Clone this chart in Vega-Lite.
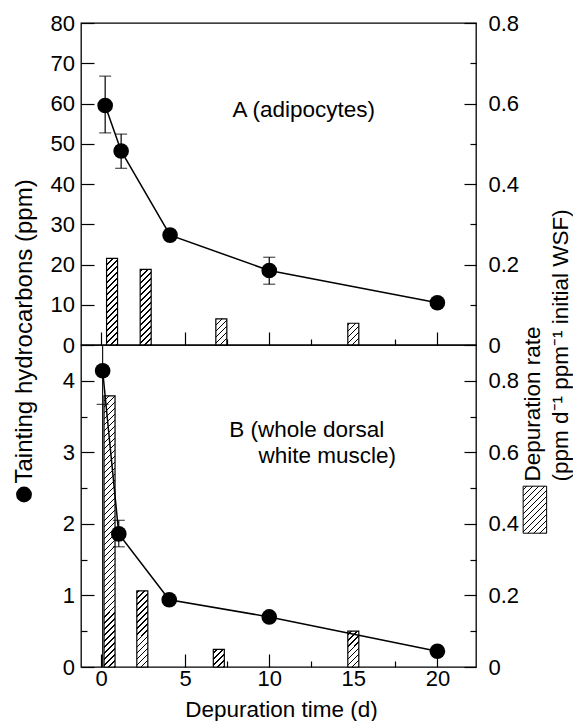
{
"$schema": "https://vega.github.io/schema/vega-lite/v6.json",
"autosize": "pad",
"padding": {"left": 11, "top": 11, "right": 0, "bottom": 0},
"background": "white",
"bounds": "flush",
"spacing": 0,
"config": {
  "font": "Liberation Sans",
  "view": {"stroke": "black", "strokeWidth": 1.3},
  "axis": {"grid": false, "domain": false, "tickColor": "black", "tickWidth": 1.2, "labelColor": "black", "labelFont": "Liberation Sans", "labelFontSize": 22, "titleFont": "Liberation Sans", "titleFontSize": 22.5, "titleFontWeight": "normal", "titleColor": "black", "labelOverlap": false, "labelFlush": false},
  "legend": {"padding": 0, "titlePadding": 0}
},
"datasets": {
  "barsA": [{"t":0.65,"rate":0.215},{"t":2.65,"rate":0.188},{"t":7.15,"rate":0.065},{"t":15.0,"rate":0.054}],
  "barsB": [{"t":0.5,"rate":0.758},{"t":2.45,"rate":0.213},{"t":7.0,"rate":0.049},{"t":15.0,"rate":0.1}],
  "ptsA": [{"t":0.24,"y":59.5},{"t":1.19,"y":48.2},{"t":4.1,"y":27.3},{"t":10,"y":18.5},{"t":20,"y":10.5}],
  "ptsB": [{"t":0.09,"y":4.14},{"t":1.05,"y":1.86},{"t":4.05,"y":0.94},{"t":10,"y":0.7},{"t":20,"y":0.22}],
  "errA": [{"t":0.24,"y":52.7,"y2":66.8},{"t":1.19,"y":43.9,"y2":52.4},{"t":10,"y":15.1,"y2":21.8}],
  "capsA": [{"t":0.24,"y":52.7},{"t":0.24,"y":66.8},{"t":1.19,"y":43.9},{"t":1.19,"y":52.4},{"t":10,"y":15.1},{"t":10,"y":21.8}],
  "errB": [{"t":0.09,"y":0,"y2":4.5},{"t":1.05,"y":1.68,"y2":2.05}],
  "capsB": [{"t":0.09,"y":3.67},{"t":1.05,"y":1.68},{"t":1.05,"y":2.05}],
  "labA": [{"t":7.81,"y":56.7,"label":"A (adipocytes)"}],
  "labB": [{"t":7.62,"y":3.22,"label":"B (whole dorsal"},{"t":9.36,"y":2.85,"label":"white muscle)"}]
},
"vconcat": [
{
  "width": 395, "height": 322,
  "resolve": {"scale": {"y": "independent"}},
  "layer": [
    {
      "data": {"name": "barsA"},
      "encoding": {"x": {"field": "t", "type": "quantitative", "scale": {"domain": [-0.9, 22], "nice": false, "zero": false},
        "axis": {"values": [0,2.5,5,7.5,10,12.5,15,17.5,20], "labels": false, "title": null, "tickSize": {"expr": "datum.value % 5 === 0 ? -13 : -6"}}}},
      "layer": [
        {"mark": {"type": "bar", "size": 11, "fill": {"gradient": "linear", "x1": 1, "y1": 1, "x2": 0.967811, "y2": 0.06359, "stops": [
{"offset":0,"color":"#000"},{"offset":0.006,"color":"#000"},{"offset":0.006,"color":"#fff"},{"offset":0.02,"color":"#fff"},
{"offset":0.02,"color":"#000"},{"offset":0.026,"color":"#000"},{"offset":0.026,"color":"#fff"},{"offset":0.04,"color":"#fff"},
{"offset":0.04,"color":"#000"},{"offset":0.046,"color":"#000"},{"offset":0.046,"color":"#fff"},{"offset":0.06,"color":"#fff"},
{"offset":0.06,"color":"#000"},{"offset":0.066,"color":"#000"},{"offset":0.066,"color":"#fff"},{"offset":0.08,"color":"#fff"},
{"offset":0.08,"color":"#000"},{"offset":0.086,"color":"#000"},{"offset":0.086,"color":"#fff"},{"offset":0.1,"color":"#fff"},
{"offset":0.1,"color":"#000"},{"offset":0.106,"color":"#000"},{"offset":0.106,"color":"#fff"},{"offset":0.12,"color":"#fff"},
{"offset":0.12,"color":"#000"},{"offset":0.126,"color":"#000"},{"offset":0.126,"color":"#fff"},{"offset":0.14,"color":"#fff"},
{"offset":0.14,"color":"#000"},{"offset":0.146,"color":"#000"},{"offset":0.146,"color":"#fff"},{"offset":0.16,"color":"#fff"},
{"offset":0.16,"color":"#000"},{"offset":0.166,"color":"#000"},{"offset":0.166,"color":"#fff"},{"offset":0.18,"color":"#fff"},
{"offset":0.18,"color":"#000"},{"offset":0.186,"color":"#000"},{"offset":0.186,"color":"#fff"},{"offset":0.2,"color":"#fff"},
{"offset":0.2,"color":"#000"},{"offset":0.206,"color":"#000"},{"offset":0.206,"color":"#fff"},{"offset":0.22,"color":"#fff"},
{"offset":0.22,"color":"#000"},{"offset":0.226,"color":"#000"},{"offset":0.226,"color":"#fff"},{"offset":0.24,"color":"#fff"},
{"offset":0.24,"color":"#000"},{"offset":0.246,"color":"#000"},{"offset":0.246,"color":"#fff"},{"offset":0.26,"color":"#fff"},
{"offset":0.26,"color":"#000"},{"offset":0.266,"color":"#000"},{"offset":0.266,"color":"#fff"},{"offset":0.28,"color":"#fff"},
{"offset":0.28,"color":"#000"},{"offset":0.286,"color":"#000"},{"offset":0.286,"color":"#fff"},{"offset":0.3,"color":"#fff"},
{"offset":0.3,"color":"#000"},{"offset":0.306,"color":"#000"},{"offset":0.306,"color":"#fff"},{"offset":0.32,"color":"#fff"},
{"offset":0.32,"color":"#000"},{"offset":0.326,"color":"#000"},{"offset":0.326,"color":"#fff"},{"offset":0.34,"color":"#fff"},
{"offset":0.34,"color":"#000"},{"offset":0.346,"color":"#000"},{"offset":0.346,"color":"#fff"},{"offset":0.36,"color":"#fff"},
{"offset":0.36,"color":"#000"},{"offset":0.366,"color":"#000"},{"offset":0.366,"color":"#fff"},{"offset":0.38,"color":"#fff"},
{"offset":0.38,"color":"#000"},{"offset":0.386,"color":"#000"},{"offset":0.386,"color":"#fff"},{"offset":0.4,"color":"#fff"},
{"offset":0.4,"color":"#000"},{"offset":0.406,"color":"#000"},{"offset":0.406,"color":"#fff"},{"offset":0.42,"color":"#fff"},
{"offset":0.42,"color":"#000"},{"offset":0.426,"color":"#000"},{"offset":0.426,"color":"#fff"},{"offset":0.44,"color":"#fff"},
{"offset":0.44,"color":"#000"},{"offset":0.446,"color":"#000"},{"offset":0.446,"color":"#fff"},{"offset":0.46,"color":"#fff"},
{"offset":0.46,"color":"#000"},{"offset":0.466,"color":"#000"},{"offset":0.466,"color":"#fff"},{"offset":0.48,"color":"#fff"},
{"offset":0.48,"color":"#000"},{"offset":0.486,"color":"#000"},{"offset":0.486,"color":"#fff"},{"offset":0.5,"color":"#fff"},
{"offset":0.5,"color":"#000"},{"offset":0.506,"color":"#000"},{"offset":0.506,"color":"#fff"},{"offset":0.52,"color":"#fff"},
{"offset":0.52,"color":"#000"},{"offset":0.526,"color":"#000"},{"offset":0.526,"color":"#fff"},{"offset":0.54,"color":"#fff"},
{"offset":0.54,"color":"#000"},{"offset":0.546,"color":"#000"},{"offset":0.546,"color":"#fff"},{"offset":0.56,"color":"#fff"},
{"offset":0.56,"color":"#000"},{"offset":0.566,"color":"#000"},{"offset":0.566,"color":"#fff"},{"offset":0.58,"color":"#fff"},
{"offset":0.58,"color":"#000"},{"offset":0.586,"color":"#000"},{"offset":0.586,"color":"#fff"},{"offset":0.6,"color":"#fff"},
{"offset":0.6,"color":"#000"},{"offset":0.606,"color":"#000"},{"offset":0.606,"color":"#fff"},{"offset":0.62,"color":"#fff"},
{"offset":0.62,"color":"#000"},{"offset":0.626,"color":"#000"},{"offset":0.626,"color":"#fff"},{"offset":0.64,"color":"#fff"},
{"offset":0.64,"color":"#000"},{"offset":0.646,"color":"#000"},{"offset":0.646,"color":"#fff"},{"offset":0.66,"color":"#fff"},
{"offset":0.66,"color":"#000"},{"offset":0.666,"color":"#000"},{"offset":0.666,"color":"#fff"},{"offset":0.68,"color":"#fff"},
{"offset":0.68,"color":"#000"},{"offset":0.686,"color":"#000"},{"offset":0.686,"color":"#fff"},{"offset":0.7,"color":"#fff"},
{"offset":0.7,"color":"#000"},{"offset":0.706,"color":"#000"},{"offset":0.706,"color":"#fff"},{"offset":0.72,"color":"#fff"},
{"offset":0.72,"color":"#000"},{"offset":0.726,"color":"#000"},{"offset":0.726,"color":"#fff"},{"offset":0.74,"color":"#fff"},
{"offset":0.74,"color":"#000"},{"offset":0.746,"color":"#000"},{"offset":0.746,"color":"#fff"},{"offset":0.76,"color":"#fff"},
{"offset":0.76,"color":"#000"},{"offset":0.766,"color":"#000"},{"offset":0.766,"color":"#fff"},{"offset":0.78,"color":"#fff"},
{"offset":0.78,"color":"#000"},{"offset":0.786,"color":"#000"},{"offset":0.786,"color":"#fff"},{"offset":0.8,"color":"#fff"},
{"offset":0.8,"color":"#000"},{"offset":0.806,"color":"#000"},{"offset":0.806,"color":"#fff"},{"offset":0.82,"color":"#fff"},
{"offset":0.82,"color":"#000"},{"offset":0.826,"color":"#000"},{"offset":0.826,"color":"#fff"},{"offset":0.84,"color":"#fff"},
{"offset":0.84,"color":"#000"},{"offset":0.846,"color":"#000"},{"offset":0.846,"color":"#fff"},{"offset":0.86,"color":"#fff"},
{"offset":0.86,"color":"#000"},{"offset":0.866,"color":"#000"},{"offset":0.866,"color":"#fff"},{"offset":0.88,"color":"#fff"},
{"offset":0.88,"color":"#000"},{"offset":0.886,"color":"#000"},{"offset":0.886,"color":"#fff"},{"offset":0.9,"color":"#fff"},
{"offset":0.9,"color":"#000"},{"offset":0.906,"color":"#000"},{"offset":0.906,"color":"#fff"},{"offset":0.92,"color":"#fff"},
{"offset":0.92,"color":"#000"},{"offset":0.926,"color":"#000"},{"offset":0.926,"color":"#fff"},{"offset":0.94,"color":"#fff"},
{"offset":0.94,"color":"#000"},{"offset":0.946,"color":"#000"},{"offset":0.946,"color":"#fff"},{"offset":0.96,"color":"#fff"}
]}},
          "encoding": {"y": {"datum": 0.795, "type": "quantitative", "scale": {"domain": [0, 0.8], "nice": false, "zero": true},
            "axis": {"orient": "right", "values": [0,0.1,0.2,0.3,0.4,0.5,0.6,0.7,0.8], "title": null,
              "tickSize": {"expr": "round(datum.value*10) % 2 === 0 ? -12 : -6"},
              "labelExpr": "round(datum.value*10) % 2 === 0 ? (datum.value === 0 ? '0' : format(datum.value, '.1f')) : ''",
              "labelPadding": 24}},
            "y2": {"datum": 0}}},
        {"mark": {"type": "bar", "size": 13, "fill": "white"},
          "encoding": {"y": {"field": "rate", "type": "quantitative"}, "y2": {"datum": 0.795}}},
        {"mark": {"type": "bar", "size": 11, "fill": "transparent", "stroke": "black", "strokeWidth": 1.2},
          "encoding": {"y": {"field": "rate", "type": "quantitative"}, "y2": {"datum": 0}}},
        {"transform": [{"filter": "false"}],
          "mark": {"type": "bar", "size": 11},
          "encoding": {"y": {"field": "rate", "type": "quantitative"},
            "fill": {"datum": "Depuration rate", "scale": {"range": [{"expr": "{gradient:'linear',x1:1,y1:1,x2:0.38723,y2:-0.22554,stops:[{offset:0,color:'#000'},{offset:0.025,color:'#000'},{offset:0.025,color:'#fff'},{offset:0.0833,color:'#fff'},{offset:0.0833,color:'#000'},{offset:0.1083,color:'#000'},{offset:0.1083,color:'#fff'},{offset:0.1667,color:'#fff'},{offset:0.1667,color:'#000'},{offset:0.1917,color:'#000'},{offset:0.1917,color:'#fff'},{offset:0.25,color:'#fff'},{offset:0.25,color:'#000'},{offset:0.275,color:'#000'},{offset:0.275,color:'#fff'},{offset:0.3333,color:'#fff'},{offset:0.3333,color:'#000'},{offset:0.3583,color:'#000'},{offset:0.3583,color:'#fff'},{offset:0.4167,color:'#fff'},{offset:0.4167,color:'#000'},{offset:0.4417,color:'#000'},{offset:0.4417,color:'#fff'},{offset:0.5,color:'#fff'},{offset:0.5,color:'#000'},{offset:0.525,color:'#000'},{offset:0.525,color:'#fff'},{offset:0.5833,color:'#fff'},{offset:0.5833,color:'#000'},{offset:0.6083,color:'#000'},{offset:0.6083,color:'#fff'},{offset:0.6667,color:'#fff'},{offset:0.6667,color:'#000'},{offset:0.6917,color:'#000'},{offset:0.6917,color:'#fff'},{offset:0.75,color:'#fff'},{offset:0.75,color:'#000'},{offset:0.775,color:'#000'},{offset:0.775,color:'#fff'},{offset:0.8333,color:'#fff'},{offset:0.8333,color:'#000'},{offset:0.8583,color:'#000'},{offset:0.8583,color:'#fff'},{offset:0.9167,color:'#fff'},{offset:0.9167,color:'#000'},{offset:0.9417,color:'#000'},{offset:0.9417,color:'#fff'},{offset:1,color:'#fff'}]}"}]},
              "legend": {"orient": "none", "legendX": 429.9, "legendY": 462.7, "title": null, "labelExpr": "''", "labelFontSize": 1,
                "symbolType": "M-0.5,-1H0.5V1H-0.5Z", "symbolSize": 2209, "symbolStrokeColor": "black", "symbolStrokeWidth": 1, "padding": 0}}}}
      ]
    },
    {
      "encoding": {"x": {"field": "t", "type": "quantitative"}},
      "layer": [
        {"data": {"name": "errA"}, "mark": {"type": "rule", "color": "black", "strokeWidth": 1.2},
          "encoding": {"y": {"field": "y", "type": "quantitative", "scale": {"domain": [0, 80], "nice": false, "zero": true},
            "axis": {"orient": "left", "values": [0,10,20,30,40,50,60,70,80], "title": null, "tickSize": -13, "labelPadding": 19.5}},
            "y2": {"field": "y2"}}},
        {"data": {"name": "capsA"}, "mark": {"type": "tick", "orient": "horizontal", "size": 12, "thickness": 1.2, "color": "black"},
          "encoding": {"y": {"field": "y", "type": "quantitative"}}},
        {"data": {"name": "ptsA"}, "mark": {"type": "line", "color": "black", "strokeWidth": 1.5},
          "encoding": {"y": {"field": "y", "type": "quantitative"}}},
        {"data": {"name": "ptsA"}, "mark": {"type": "point", "filled": true, "color": "black", "size": 245, "opacity": 1},
          "encoding": {"y": {"field": "y", "type": "quantitative"},
            "shape": {"datum": "Tainting hydrocarbons", "scale": {"range": ["circle"]},
              "legend": {"orient": "none", "legendX": -65, "legendY": 463.5, "title": null, "labelExpr": "''", "labelFontSize": 1,
                "symbolSize": 250, "symbolFillColor": "black", "symbolStrokeWidth": 0, "padding": 0,
                "encode": {"symbols": {"update": {"fill": {"value": "black"}, "strokeWidth": {"value": 0}}}}}}}},
        {"data": {"name": "labA"}, "mark": {"type": "text", "align": "left", "baseline": "alphabetic", "fontSize": 22.5, "color": "black", "font": "Liberation Sans"},
          "encoding": {"y": {"field": "y", "type": "quantitative"}, "text": {"field": "label"}}}
      ]
    }
  ]
},
{
  "width": 395, "height": 322,
  "resolve": {"scale": {"y": "independent"}},
  "layer": [
    {
      "data": {"name": "barsB"},
      "encoding": {"x": {"field": "t", "type": "quantitative", "scale": {"domain": [-0.9, 22], "nice": false, "zero": false},
        "axis": {"values": [0,2.5,5,7.5,10,12.5,15,17.5,20], "title": "Depuration time (d)", "titleBaseline": "alphabetic", "titleY": 49, "titleX": 200,
          "tickSize": {"expr": "datum.value % 5 === 0 ? -13 : -6"},
          "labelExpr": "datum.value % 5 === 0 ? datum.label : ''", "labelBaseline": "alphabetic", "labelPadding": 31}}},
      "layer": [
        {"mark": {"type": "bar", "size": 11, "fill": {"gradient": "linear", "x1": 1, "y1": 1, "x2": 0.967811, "y2": 0.06359, "stops": [
{"offset":0,"color":"#000"},{"offset":0.006,"color":"#000"},{"offset":0.006,"color":"#fff"},{"offset":0.02,"color":"#fff"},
{"offset":0.02,"color":"#000"},{"offset":0.026,"color":"#000"},{"offset":0.026,"color":"#fff"},{"offset":0.04,"color":"#fff"},
{"offset":0.04,"color":"#000"},{"offset":0.046,"color":"#000"},{"offset":0.046,"color":"#fff"},{"offset":0.06,"color":"#fff"},
{"offset":0.06,"color":"#000"},{"offset":0.066,"color":"#000"},{"offset":0.066,"color":"#fff"},{"offset":0.08,"color":"#fff"},
{"offset":0.08,"color":"#000"},{"offset":0.086,"color":"#000"},{"offset":0.086,"color":"#fff"},{"offset":0.1,"color":"#fff"},
{"offset":0.1,"color":"#000"},{"offset":0.106,"color":"#000"},{"offset":0.106,"color":"#fff"},{"offset":0.12,"color":"#fff"},
{"offset":0.12,"color":"#000"},{"offset":0.126,"color":"#000"},{"offset":0.126,"color":"#fff"},{"offset":0.14,"color":"#fff"},
{"offset":0.14,"color":"#000"},{"offset":0.146,"color":"#000"},{"offset":0.146,"color":"#fff"},{"offset":0.16,"color":"#fff"},
{"offset":0.16,"color":"#000"},{"offset":0.166,"color":"#000"},{"offset":0.166,"color":"#fff"},{"offset":0.18,"color":"#fff"},
{"offset":0.18,"color":"#000"},{"offset":0.186,"color":"#000"},{"offset":0.186,"color":"#fff"},{"offset":0.2,"color":"#fff"},
{"offset":0.2,"color":"#000"},{"offset":0.206,"color":"#000"},{"offset":0.206,"color":"#fff"},{"offset":0.22,"color":"#fff"},
{"offset":0.22,"color":"#000"},{"offset":0.226,"color":"#000"},{"offset":0.226,"color":"#fff"},{"offset":0.24,"color":"#fff"},
{"offset":0.24,"color":"#000"},{"offset":0.246,"color":"#000"},{"offset":0.246,"color":"#fff"},{"offset":0.26,"color":"#fff"},
{"offset":0.26,"color":"#000"},{"offset":0.266,"color":"#000"},{"offset":0.266,"color":"#fff"},{"offset":0.28,"color":"#fff"},
{"offset":0.28,"color":"#000"},{"offset":0.286,"color":"#000"},{"offset":0.286,"color":"#fff"},{"offset":0.3,"color":"#fff"},
{"offset":0.3,"color":"#000"},{"offset":0.306,"color":"#000"},{"offset":0.306,"color":"#fff"},{"offset":0.32,"color":"#fff"},
{"offset":0.32,"color":"#000"},{"offset":0.326,"color":"#000"},{"offset":0.326,"color":"#fff"},{"offset":0.34,"color":"#fff"},
{"offset":0.34,"color":"#000"},{"offset":0.346,"color":"#000"},{"offset":0.346,"color":"#fff"},{"offset":0.36,"color":"#fff"},
{"offset":0.36,"color":"#000"},{"offset":0.366,"color":"#000"},{"offset":0.366,"color":"#fff"},{"offset":0.38,"color":"#fff"},
{"offset":0.38,"color":"#000"},{"offset":0.386,"color":"#000"},{"offset":0.386,"color":"#fff"},{"offset":0.4,"color":"#fff"},
{"offset":0.4,"color":"#000"},{"offset":0.406,"color":"#000"},{"offset":0.406,"color":"#fff"},{"offset":0.42,"color":"#fff"},
{"offset":0.42,"color":"#000"},{"offset":0.426,"color":"#000"},{"offset":0.426,"color":"#fff"},{"offset":0.44,"color":"#fff"},
{"offset":0.44,"color":"#000"},{"offset":0.446,"color":"#000"},{"offset":0.446,"color":"#fff"},{"offset":0.46,"color":"#fff"},
{"offset":0.46,"color":"#000"},{"offset":0.466,"color":"#000"},{"offset":0.466,"color":"#fff"},{"offset":0.48,"color":"#fff"},
{"offset":0.48,"color":"#000"},{"offset":0.486,"color":"#000"},{"offset":0.486,"color":"#fff"},{"offset":0.5,"color":"#fff"},
{"offset":0.5,"color":"#000"},{"offset":0.506,"color":"#000"},{"offset":0.506,"color":"#fff"},{"offset":0.52,"color":"#fff"},
{"offset":0.52,"color":"#000"},{"offset":0.526,"color":"#000"},{"offset":0.526,"color":"#fff"},{"offset":0.54,"color":"#fff"},
{"offset":0.54,"color":"#000"},{"offset":0.546,"color":"#000"},{"offset":0.546,"color":"#fff"},{"offset":0.56,"color":"#fff"},
{"offset":0.56,"color":"#000"},{"offset":0.566,"color":"#000"},{"offset":0.566,"color":"#fff"},{"offset":0.58,"color":"#fff"},
{"offset":0.58,"color":"#000"},{"offset":0.586,"color":"#000"},{"offset":0.586,"color":"#fff"},{"offset":0.6,"color":"#fff"},
{"offset":0.6,"color":"#000"},{"offset":0.606,"color":"#000"},{"offset":0.606,"color":"#fff"},{"offset":0.62,"color":"#fff"},
{"offset":0.62,"color":"#000"},{"offset":0.626,"color":"#000"},{"offset":0.626,"color":"#fff"},{"offset":0.64,"color":"#fff"},
{"offset":0.64,"color":"#000"},{"offset":0.646,"color":"#000"},{"offset":0.646,"color":"#fff"},{"offset":0.66,"color":"#fff"},
{"offset":0.66,"color":"#000"},{"offset":0.666,"color":"#000"},{"offset":0.666,"color":"#fff"},{"offset":0.68,"color":"#fff"},
{"offset":0.68,"color":"#000"},{"offset":0.686,"color":"#000"},{"offset":0.686,"color":"#fff"},{"offset":0.7,"color":"#fff"},
{"offset":0.7,"color":"#000"},{"offset":0.706,"color":"#000"},{"offset":0.706,"color":"#fff"},{"offset":0.72,"color":"#fff"},
{"offset":0.72,"color":"#000"},{"offset":0.726,"color":"#000"},{"offset":0.726,"color":"#fff"},{"offset":0.74,"color":"#fff"},
{"offset":0.74,"color":"#000"},{"offset":0.746,"color":"#000"},{"offset":0.746,"color":"#fff"},{"offset":0.76,"color":"#fff"},
{"offset":0.76,"color":"#000"},{"offset":0.766,"color":"#000"},{"offset":0.766,"color":"#fff"},{"offset":0.78,"color":"#fff"},
{"offset":0.78,"color":"#000"},{"offset":0.786,"color":"#000"},{"offset":0.786,"color":"#fff"},{"offset":0.8,"color":"#fff"},
{"offset":0.8,"color":"#000"},{"offset":0.806,"color":"#000"},{"offset":0.806,"color":"#fff"},{"offset":0.82,"color":"#fff"},
{"offset":0.82,"color":"#000"},{"offset":0.826,"color":"#000"},{"offset":0.826,"color":"#fff"},{"offset":0.84,"color":"#fff"},
{"offset":0.84,"color":"#000"},{"offset":0.846,"color":"#000"},{"offset":0.846,"color":"#fff"},{"offset":0.86,"color":"#fff"},
{"offset":0.86,"color":"#000"},{"offset":0.866,"color":"#000"},{"offset":0.866,"color":"#fff"},{"offset":0.88,"color":"#fff"},
{"offset":0.88,"color":"#000"},{"offset":0.886,"color":"#000"},{"offset":0.886,"color":"#fff"},{"offset":0.9,"color":"#fff"},
{"offset":0.9,"color":"#000"},{"offset":0.906,"color":"#000"},{"offset":0.906,"color":"#fff"},{"offset":0.92,"color":"#fff"},
{"offset":0.92,"color":"#000"},{"offset":0.926,"color":"#000"},{"offset":0.926,"color":"#fff"},{"offset":0.94,"color":"#fff"},
{"offset":0.94,"color":"#000"},{"offset":0.946,"color":"#000"},{"offset":0.946,"color":"#fff"},{"offset":0.96,"color":"#fff"}
]}},
          "encoding": {"y": {"datum": 0.895, "type": "quantitative", "scale": {"domain": [0, 0.9], "nice": false, "zero": true},
            "axis": {"orient": "right", "values": [0,0.1,0.2,0.3,0.4,0.5,0.6,0.7,0.8],
              "tickSize": {"expr": "round(datum.value*10) % 2 === 0 ? -12 : -6"},
              "labelExpr": "round(datum.value*10) % 2 === 0 ? (datum.value === 0 ? '0' : format(datum.value, '.1f')) : ''",
              "labelPadding": 24,
              "title": ["Depuration rate", "(ppm d⁻¹ ppm⁻¹ initial WSF)"], "titleAngle": 270, "titleAlign": "left", "titleBaseline": "alphabetic",
              "titleX": 63.5, "titleY": 136, "titleLineHeight": 28}},
            "y2": {"datum": 0}}},
        {"mark": {"type": "bar", "size": 13, "fill": "white"},
          "encoding": {"y": {"field": "rate", "type": "quantitative"}, "y2": {"datum": 0.895}}},
        {"mark": {"type": "bar", "size": 11, "fill": "transparent", "stroke": "black", "strokeWidth": 1.2},
          "encoding": {"y": {"field": "rate", "type": "quantitative"}, "y2": {"datum": 0}}}
      ]
    },
    {
      "encoding": {"x": {"field": "t", "type": "quantitative"}},
      "layer": [
        {"data": {"name": "errB"}, "mark": {"type": "rule", "color": "black", "strokeWidth": 1.1},
          "encoding": {"y": {"field": "y", "type": "quantitative", "scale": {"domain": [0, 4.5], "nice": false, "zero": true},
            "axis": {"orient": "left", "values": [0,0.5,1,1.5,2,2.5,3,3.5,4],
              "tickSize": {"expr": "datum.value % 1 === 0 ? -13 : -6"},
              "labelExpr": "datum.value % 1 === 0 ? format(datum.value, '.0f') : ''", "labelPadding": 19.5,
              "title": "Tainting hydrocarbons (ppm)", "titleAngle": 270, "titleAlign": "left", "titleBaseline": "alphabetic",
              "titleX": -50, "titleY": 138, "titleFontSize": 24}},
            "y2": {"field": "y2"}}},
        {"data": {"name": "capsB"}, "mark": {"type": "tick", "orient": "horizontal", "size": 12, "thickness": 1.2, "color": "black"},
          "encoding": {"y": {"field": "y", "type": "quantitative"}}},
        {"data": {"name": "ptsB"}, "mark": {"type": "line", "color": "black", "strokeWidth": 1.5},
          "encoding": {"y": {"field": "y", "type": "quantitative"}}},
        {"data": {"name": "ptsB"}, "mark": {"type": "point", "filled": true, "color": "black", "size": 245, "opacity": 1},
          "encoding": {"y": {"field": "y", "type": "quantitative"},
            "shape": {"datum": "Tainting hydrocarbons", "scale": {"range": ["circle"]}}}},
        {"data": {"name": "labB"}, "mark": {"type": "text", "align": "left", "baseline": "alphabetic", "fontSize": 22.5, "color": "black", "font": "Liberation Sans"},
          "encoding": {"y": {"field": "y", "type": "quantitative"}, "text": {"field": "label"}}}
      ]
    }
  ]
}
]
}
